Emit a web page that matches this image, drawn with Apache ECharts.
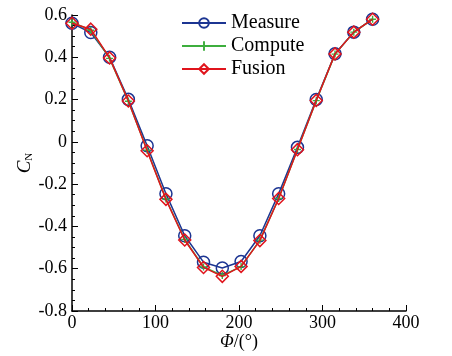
<!DOCTYPE html>
<html>
<head>
<meta charset="utf-8">
<script src="https://cdn.jsdelivr.net/npm/echarts@6/dist/echarts.min.js"></script>
<style>
  html, body { margin: 0; padding: 0; background: #fff; }
  #chart { width: 452px; height: 356px; }
</style>
</head>
<body>
<div id="chart"></div>
<script>
const phi = [0, 22.5, 45, 67.5, 90, 112.5, 135, 157.5, 180, 202.5, 225, 247.5, 270, 292.5, 315, 337.5, 360];
const measure = [0.561, 0.517, 0.400, 0.201, -0.018, -0.245, -0.444, -0.569, -0.597, -0.566, -0.444, -0.245, -0.026, 0.200, 0.417, 0.519, 0.580];
const compute = [0.566, 0.528, 0.395, 0.192, -0.040, -0.270, -0.462, -0.592, -0.632, -0.590, -0.465, -0.268, -0.036, 0.195, 0.415, 0.519, 0.580];
const fusion = [0.561, 0.533, 0.397, 0.193, -0.042, -0.272, -0.464, -0.594, -0.636, -0.589, -0.467, -0.268, -0.037, 0.196, 0.416, 0.519, 0.580];

const font = 'Liberation Serif';
const plus = 'path://M4,0 L6,0 L6,4 L10,4 L10,6 L6,6 L6,10 L4,10 L4,6 L0,6 L0,4 L4,4 Z';

function pairs(ys) {
  return phi.map((x, i) => [x, ys[i]]);
}

const myChart = echarts.init(document.getElementById('chart'));
myChart.setOption({
  animation: false,
  backgroundColor: '#fff',
  grid: { left: 72, right: 46, top: 15, bottom: 43 },
  legend: {
    orient: 'vertical',
    left: 176,
    top: 8,
    itemWidth: 44,
    itemHeight: 12,
    itemGap: 3,
    textStyle: { fontFamily: font, fontSize: 20, color: '#000' },
    data: ['Measure', 'Compute', 'Fusion']
  },
  xAxis: {
    type: 'value',
    min: 0, max: 400, interval: 100,
    name: '{i|Φ}/(°)',
    nameLocation: 'middle',
    nameGap: 22,
    nameMoveOverlap: false,
    nameTextStyle: {
      fontFamily: font, fontSize: 18, color: '#000',
      rich: { i: { fontFamily: font, fontSize: 18, fontStyle: 'italic', color: '#000' } }
    },
    axisLine: { onZero: false, lineStyle: { color: '#000', width: 1.5 } },
    axisTick: { inside: true, length: 6, lineStyle: { color: '#000' } },
    minorTick: { show: true, splitNumber: 5, length: 3, lineStyle: { color: '#000' } },
    axisLabel: { fontFamily: font, fontSize: 18, color: '#000', margin: 3 },
    splitLine: { show: false }
  },
  yAxis: {
    type: 'value',
    min: -0.8, max: 0.6, interval: 0.2,
    name: '{c|C}{n|N}',
    nameLocation: 'middle',
    nameGap: 37,
    nameMoveOverlap: false,
    nameRotate: 90,
    nameTextStyle: {
      color: '#000',
      rich: {
        c: { fontFamily: font, fontSize: 19, fontStyle: 'italic', color: '#000' },
        n: { fontFamily: font, fontSize: 11, color: '#000', padding: [9, 0, 0, 0] }
      }
    },
    axisLine: { onZero: false, lineStyle: { color: '#000', width: 1.5 } },
    axisTick: { inside: true, length: 6, lineStyle: { color: '#000' } },
    minorTick: { show: true, splitNumber: 4, length: 3, lineStyle: { color: '#000' } },
    axisLabel: {
      fontFamily: font, fontSize: 18, color: '#000', margin: 5,
      formatter: v => String(Math.round(v * 10) / 10)
    },
    splitLine: { show: false }
  },
  series: [{
    name: 'Measure',
    type: 'line',
    data: pairs(measure),
    symbol: 'circle',
    symbolSize: 12,
    lineStyle: { color: '#1c3592', width: 1.5 },
    itemStyle: { color: 'rgba(255,255,255,0)', borderColor: '#1c3592', borderWidth: 1.5 },
    z: 2
  }, {
    name: 'Compute',
    type: 'line',
    data: pairs(compute),
    symbol: plus,
    symbolSize: 7,
    lineStyle: { color: '#3dae3d', width: 1.5 },
    itemStyle: { color: '#3dae3d', borderWidth: 0 },
    z: 3
  }, {
    name: 'Fusion',
    type: 'line',
    data: pairs(fusion),
    symbol: 'diamond',
    symbolSize: 12,
    lineStyle: { color: '#e0141c', width: 1.5 },
    itemStyle: { color: 'rgba(255,255,255,0)', borderColor: '#e0141c', borderWidth: 1.5 },
    z: 4
  }]
});

window.addEventListener('resize', function() {
  myChart.resize();
});
</script>
</body>
</html>
